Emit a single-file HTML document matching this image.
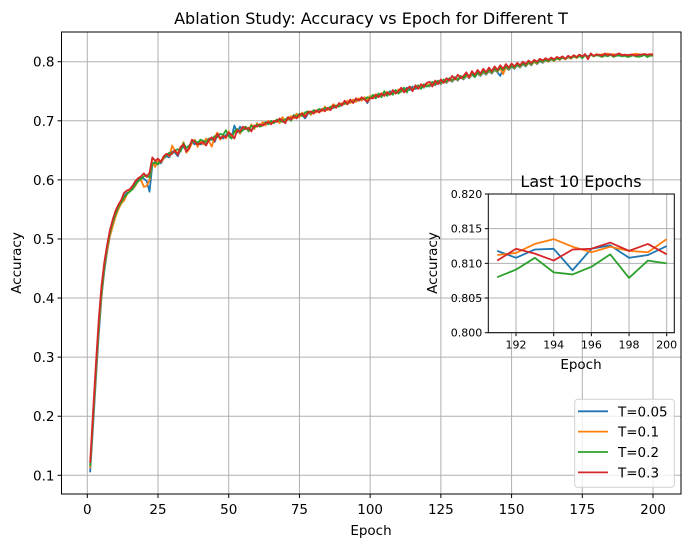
<!DOCTYPE html>
<html><head><meta charset="utf-8">
<style>
html,body{margin:0;padding:0;background:#fff;}
svg{display:block;font-family:"DejaVu Sans","Liberation Sans",sans-serif;}
</style></head>
<body>
<svg id="chart" width="691" height="547" viewBox="0 0 691 547" xmlns="http://www.w3.org/2000/svg"></svg>
<script>
const seriesNames = ["T=0.05","T=0.1","T=0.2","T=0.3"];
const seriesColors = ["#1f77b4","#ff7f0e","#2ca02c","#d62728"];
const xTicks = [0,25,50,75,100,125,150,175,200];
const yTicks = [0.1,0.2,0.3,0.4,0.5,0.6,0.7,0.8];
const insetXTicks = [192,194,196,198,200];
const insetYTicks = [0.800,0.805,0.810,0.815,0.820];
const accBlue = [.105,.18,.26,.335,.40,.445,.478,.505,.525,.540,
.552,.560,.572,.578,.580,.586,.594,.600,.604,.602,
.598,.580,.626,.628,.632,.628,.636,.640,.638,.648,
.646,.640,.652,.656,.650,.652,.664,.660,.664,.660,
.662,.660,.666,.670,.664,.676,.672,.670,.676,.678,
.672,.692,.680,.690,.684,.688,.686,.684,.690,.692,
.692,.694,.694,.696,.696,.698,.700,.702,.702,.698,
.704,.704,.706,.708,.708,.710,.704,.712,.714,.714,
.716,.716,.718,.718,.720,.720,.722,.724,.726,.726,
.730,.730,.732,.732,.734,.736,.738,.738,.730,.740,
.742,.738,.746,.742,.748,.744,.750,.746,.752,.748,
.754,.750,.756,.752,.758,.754,.756,.760,.756,.762,
.758,.764,.760,.766,.762,.768,.764,.770,.766,.772,
.768,.774,.770,.776,.772,.778,.774,.780,.776,.782,
.778,.784,.780,.786,.782,.776,.788,.790,.786,.792,
.788,.794,.790,.796,.792,.798,.794,.800,.796,.801,
.798,.803,.800,.804,.802,.806,.803,.807,.804,.808,
.806,.809,.807,.810,.808,.811,.809,.812,.810,.811,
.811,.812,.810,.813,.811,.812,.812,.810,.812,.811,
.8118,.8108,.8120,.8121,.8090,.8121,.8126,.8108,.8112,.8125];
const accOrange = [.112,.19,.27,.345,.405,.45,.48,.505,.522,.538,
.550,.560,.565,.575,.582,.584,.590,.598,.600,.588,
.590,.600,.630,.622,.634,.630,.636,.644,.640,.658,
.648,.646,.650,.664,.646,.652,.662,.668,.656,.666,
.660,.670,.666,.656,.672,.680,.668,.676,.670,.682,
.674,.680,.686,.678,.688,.690,.684,.694,.686,.696,
.690,.698,.692,.700,.696,.698,.702,.696,.706,.700,
.702,.708,.704,.712,.706,.714,.708,.716,.710,.718,
.714,.720,.716,.724,.718,.722,.728,.724,.726,.730,
.728,.734,.730,.736,.732,.738,.734,.740,.736,.742,
.740,.745,.741,.747,.743,.749,.745,.751,.747,.753,
.749,.755,.751,.757,.753,.759,.755,.761,.757,.763,
.759,.765,.761,.767,.763,.769,.765,.771,.767,.773,
.769,.775,.771,.777,.773,.779,.775,.781,.777,.783,
.779,.785,.781,.787,.783,.789,.779,.791,.787,.793,
.789,.795,.791,.797,.793,.798,.795,.800,.797,.802,
.799,.803,.800,.805,.801,.806,.803,.807,.804,.808,
.805,.809,.806,.810,.807,.811,.808,.812,.809,.813,
.810,.813,.810,.814,.811,.813,.810,.814,.811,.812,
.8112,.8115,.8128,.8135,.8124,.8116,.8124,.8118,.8116,.8135];
const accGreen = [.115,.195,.275,.35,.41,.452,.485,.51,.528,.542,
.554,.562,.570,.576,.580,.584,.592,.598,.602,.606,
.608,.604,.628,.630,.626,.632,.638,.642,.646,.644,
.650,.652,.648,.662,.654,.658,.664,.666,.662,.668,
.666,.664,.670,.668,.674,.672,.678,.676,.684,.674,
.670,.682,.686,.680,.684,.690,.682,.692,.688,.694,
.690,.692,.698,.694,.700,.696,.702,.700,.698,.702,
.706,.700,.710,.706,.712,.708,.714,.716,.712,.718,
.716,.720,.718,.722,.720,.724,.722,.726,.724,.728,
.730,.728,.734,.732,.736,.734,.738,.736,.740,.738,
.744,.738,.746,.740,.750,.742,.748,.744,.752,.746,
.750,.756,.748,.758,.752,.756,.760,.754,.762,.758,
.760,.766,.762,.768,.764,.770,.766,.772,.768,.774,
.770,.776,.772,.778,.776,.780,.774,.782,.778,.784,
.780,.786,.782,.788,.784,.790,.786,.792,.788,.793,
.790,.795,.792,.797,.794,.799,.796,.801,.798,.802,
.800,.803,.801,.805,.802,.806,.804,.807,.805,.808,
.806,.809,.807,.810,.806,.811,.808,.812,.809,.811,
.810,.808,.811,.809,.812,.808,.810,.811,.809,.810,
.8080,.8091,.8108,.8087,.8084,.8095,.8113,.8079,.8104,.8100];
const accRed = [.121,.205,.285,.36,.42,.46,.49,.515,.533,.548,
.558,.566,.578,.582,.584,.59,.598,.603,.606,.611,
.605,.612,.638,.632,.636,.630,.640,.644,.641,.645,
.650,.642,.656,.660,.648,.654,.668,.664,.660,.662,
.664,.658,.668,.672,.666,.678,.670,.674,.672,.680,
.676,.670,.684,.682,.690,.686,.688,.682,.692,.690,
.694,.692,.696,.698,.694,.700,.698,.704,.700,.696,
.706,.702,.708,.704,.710,.712,.706,.714,.716,.712,
.718,.714,.720,.716,.722,.718,.726,.722,.730,.726,
.734,.728,.736,.730,.738,.734,.740,.736,.732,.738,
.738,.744,.740,.746,.742,.748,.744,.752,.746,.750,
.756,.748,.754,.758,.750,.760,.754,.762,.758,.764,
.766,.758,.768,.762,.770,.764,.772,.768,.776,.770,
.778,.772,.776,.782,.774,.784,.778,.786,.780,.788,
.782,.790,.784,.792,.786,.794,.788,.796,.790,.797,
.792,.798,.794,.800,.796,.802,.798,.803,.800,.805,
.802,.806,.803,.807,.804,.808,.806,.809,.805,.810,
.807,.811,.808,.812,.809,.813,.804,.814,.810,.812,
.812,.810,.814,.811,.813,.810,.812,.814,.811,.812,
.8104,.8121,.8114,.8104,.8120,.8121,.8130,.8118,.8128,.8113];
const allSeries = [accBlue, accOrange, accGreen, accRed];

const NS = "http://www.w3.org/2000/svg";
const svg = document.getElementById("chart");
function mk(tag, attrs, parent){ const e=document.createElementNS(NS,tag); for(const k in attrs) e.setAttribute(k,attrs[k]); (parent||svg).appendChild(e); return e; }

const L=61.5,R=681,T=32,B=494;
const xS = v => 87.3 + v*(653-87.3)/200;
const yS = v => 475.3 - (v-0.1)*(475.3-61.7)/0.7;

const title = mk("text",{x:371,y:24,"text-anchor":"middle","font-size":"16",fill:"#000"});
title.textContent="Ablation Study: Accuracy vs Epoch for Different T";



const grid = mk("g",{stroke:"#b0b0b0","stroke-width":"1"});


xTicks.forEach(t=>{
  mk("line",{x1:xS(t),x2:xS(t),y1:T,y2:B},grid);
  mk("line",{x1:xS(t),x2:xS(t),y1:B,y2:B+4,stroke:"#000"});
  const lb=mk("text",{x:xS(t),y:B+20,"text-anchor":"middle","font-size":"13.5",fill:"#000"});
  lb.textContent=t;
  
  
});
yTicks.forEach(t=>{
  mk("line",{x1:L,x2:R,y1:yS(t),y2:yS(t)},grid);
  mk("line",{x1:L-4,x2:L,y1:yS(t),y2:yS(t),stroke:"#000"});
  const lb=mk("text",{x:L-7,y:yS(t)+5,"text-anchor":"end","font-size":"13.5",fill:"#000"});
  lb.textContent=t.toFixed(1);
  
  
});
const xl=mk("text",{x:371,y:535,"text-anchor":"middle","font-size":"13.5",fill:"#000"});
xl.textContent="Epoch";


const yl=mk("text",{x:0,y:0,transform:"translate(21,263) rotate(-90)","text-anchor":"middle","font-size":"13.5",fill:"#000"});
yl.textContent="Accuracy";



allSeries.forEach((s,i)=>{
  const d=s.map((v,k)=>(k?"L":"M")+xS(k+1).toFixed(2)+","+yS(v).toFixed(2)).join("");
  const p=mk("path",{d:d,fill:"none",stroke:seriesColors[i],"stroke-width":"1.8","stroke-linejoin":"round"});
  
  
});
const frame=mk("rect",{x:L,y:T,width:R-L,height:B-T,fill:"none",stroke:"#000","stroke-width":"1"});



const lg=mk("g",{});


mk("rect",{x:574.7,y:399.3,width:99.6,height:88,rx:3,fill:"#fff","fill-opacity":"0.8",stroke:"#d0d0d0"},lg);
seriesNames.forEach((n,i)=>{
  const y=411.3+i*20.35;
  const e=mk("g",{},lg);
  
  
  mk("line",{x1:578,x2:608,y1:y,y2:y,stroke:seriesColors[i],"stroke-width":"1.8"},e);
  const t=mk("text",{x:618,y:y+5,"font-size":"13.5",fill:"#000"},e);
  t.textContent=n;
});

const iL=488.3,iR=674.3,iT=194,iB=332.7;
const ixS = v => 497.2 + (v-191)*(666.7-497.2)/9;
const iyS = v => iB - (v-0.8)*(iB-iT)/0.02;
const inset=mk("g",{});


mk("rect",{x:iL,y:iT,width:iR-iL,height:iB-iT,fill:"#fff"},inset);
const it=mk("text",{x:581,y:187,"text-anchor":"middle","font-size":"16",fill:"#000"},inset);
it.textContent="Last 10 Epochs";


insetXTicks.forEach(t=>{
  mk("line",{x1:ixS(t),x2:ixS(t),y1:iT,y2:iB,stroke:"#b0b0b0"},inset);
  mk("line",{x1:ixS(t),x2:ixS(t),y1:iB,y2:iB+3.5,stroke:"#000"},inset);
  const lb=mk("text",{x:ixS(t),y:iB+16,"text-anchor":"middle","font-size":"11",fill:"#000"},inset);
  lb.textContent=t;
  
  
});
insetYTicks.forEach(t=>{
  mk("line",{x1:iL,x2:iR,y1:iyS(t),y2:iyS(t),stroke:"#b0b0b0"},inset);
  mk("line",{x1:iL-3.5,x2:iL,y1:iyS(t),y2:iyS(t),stroke:"#000"},inset);
  const lb=mk("text",{x:iL-6,y:iyS(t)+4,"text-anchor":"end","font-size":"11",fill:"#000"},inset);
  lb.textContent=t.toFixed(3);
  
  
});
const ixl=mk("text",{x:581,y:369,"text-anchor":"middle","font-size":"13.5",fill:"#000"},inset);
ixl.textContent="Epoch";


const iyl=mk("text",{x:0,y:0,transform:"translate(437,263) rotate(-90)","text-anchor":"middle","font-size":"13.5",fill:"#000"},inset);
iyl.textContent="Accuracy";


allSeries.forEach((s,i)=>{
  const last=s.slice(190);
  const d=last.map((v,k)=>(k?"L":"M")+ixS(191+k).toFixed(2)+","+iyS(v).toFixed(2)).join("");
  const p=mk("path",{d:d,fill:"none",stroke:seriesColors[i],"stroke-width":"1.8","stroke-linejoin":"round"},inset);
  
  
});
mk("rect",{x:iL,y:iT,width:iR-iL,height:iB-iT,fill:"none",stroke:"#000"},inset);
</script>
</body></html>
